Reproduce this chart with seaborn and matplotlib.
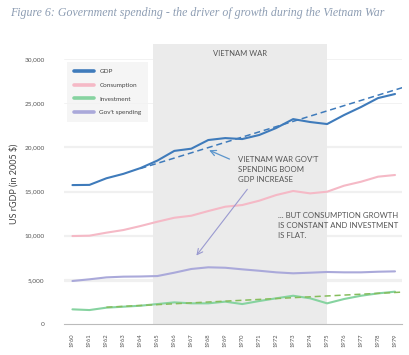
import pandas as pd
import matplotlib
matplotlib.use('Agg')
import matplotlib.pyplot as plt
import seaborn as sns

years = list(range(1960, 1980))
gdp = [15730, 15750, 16500, 17000, 17650, 18500, 19600, 19850, 20830, 21050,
       20940, 21400, 22190, 23200, 22870, 22640, 23660, 24570, 25580, 26040]
consumption = [9960, 10000, 10340, 10640, 11090, 11580, 12030, 12260, 12790, 13280,
               13470, 13960, 14600, 15060, 14790, 14980, 15660, 16110, 16680, 16870]
investment = [1660, 1580, 1850, 1960, 2070, 2260, 2450, 2340, 2340, 2530,
              2260, 2600, 2910, 3200, 2910, 2340, 2830, 3200, 3470, 3660]
govt = [4870, 5060, 5280, 5360, 5380, 5430, 5810, 6230, 6420, 6370,
        6190, 6030, 5850, 5740, 5810, 5890, 5850, 5850, 5920, 5960]

gdp_trend_x = [1964.0, 1979.5]
gdp_trend_y = [17600, 26800]
inv_trend_x = [1962.0, 1979.3]
inv_trend_y = [1900, 3600]

war_start, war_end = 1964.75, 1975.0

series = ['GDP', 'Consumption', 'Investment', "Gov't spending"]
colors = ['#3f7bbb', '#f5b9c6', '#86d3a0', '#aaa9da']

def main():
    df = pd.DataFrame({'Year': years * 4,
                       'Value': gdp + consumption + investment + govt,
                       'Series': sum([[s] * len(years) for s in series], [])})

    sns.set_style('white')
    plt.rcParams['font.family'] = ['Lato', 'DejaVu Sans']

    fig = plt.figure(figsize=(4.1, 3.55), dpi=100)
    ax = fig.add_axes([0.156, 0.0873, 0.824, 0.7887])

    # war band + gridlines
    ax.axvspan(war_start, war_end, color='#ebebeb', zorder=0, lw=0)
    for v in range(5000, 35000, 5000):
        ax.axhline(v, color='#f0f0f0', lw=0.6, zorder=-1)
    ax.text((war_start + war_end) / 2, 30650, 'VIETNAM WAR', ha='center', va='center',
            fontsize=5.5, color='#555555')

    sns.lineplot(data=df, x='Year', y='Value', hue='Series', hue_order=series,
                 palette=colors, ax=ax, zorder=3, legend=True)
    for line, lw in zip(ax.lines, [2.3, 1.6, 1.6, 1.6]):
        line.set_linewidth(lw)
        line.set_solid_capstyle('round')
        line.set_solid_joinstyle('round')

    ax.plot(gdp_trend_x, gdp_trend_y, ls=(0, (4, 2.5)), color='#3f7bbb', lw=1.1, zorder=4)
    ax.plot(inv_trend_x, inv_trend_y, ls=(0, (4, 2.5)), color='#86bd5c', lw=1.1, zorder=4)

    leg = ax.legend(loc='upper left', bbox_to_anchor=(0.01, 0.935), fontsize=4.6,
                    frameon=True, facecolor='#f3f3f3', edgecolor='none', fancybox=False,
                    handlelength=3.2, borderpad=1.0, labelspacing=1.3,
                    borderaxespad=0.0)
    for h in leg.get_lines():
        h.set_linewidth(2.6)
    for t in leg.get_texts():
        t.set_color('#444444')

    # annotations
    ax.annotate('', xy=(1967.9, 19800), xytext=(1969.4, 18550),
                arrowprops=dict(arrowstyle='->', color='#5b95cc', lw=0.9), zorder=5)
    ax.annotate('', xy=(1967.2, 7500), xytext=(1970.4, 15500),
                arrowprops=dict(arrowstyle='->', color='#9a9ad0', lw=0.8), zorder=5)
    ax.text(1969.75, 19000, "VIETNAM WAR GOV'T\nSPENDING BOOM\nGDP INCREASE",
            ha='left', va='top', fontsize=5.6, color='#555555', linespacing=1.45)
    ax.text(1972.1, 12650, '... BUT CONSUMPTION GROWTH\nIS CONSTANT AND INVESTMENT\nIS FLAT.',
            ha='left', va='top', fontsize=5.6, color='#555555', linespacing=1.45)

    ax.set_xlim(1959.5, 1979.4)
    ax.set_ylim(0, 31700)
    ax.set_xticks(years)
    ax.set_xticklabels([str(y) for y in years], rotation=90, fontsize=4.2, color='#555555')
    ax.set_yticks(range(0, 35000, 5000))
    ax.set_yticklabels([f'{v:,}' for v in range(0, 35000, 5000)], fontsize=4.6, color='#555555')
    ax.tick_params(axis='x', length=0, pad=7)
    ax.tick_params(axis='y', length=0, pad=14)
    ax.set_xlabel('')
    ax.set_ylabel('US rGDP (in 2005 $)', fontsize=6.5, color='#444444', labelpad=4)
    for side in ['top', 'right', 'left']:
        ax.spines[side].set_visible(False)
    ax.spines['bottom'].set_color('#bbbbbb')
    ax.spines['bottom'].set_linewidth(0.8)

    fig.text(0.025, 0.962, 'Figure 6: Government spending - the driver of growth during the Vietnam War',
             fontsize=8.6, style='italic', family='Liberation Serif', color='#8d9db3',
             ha='left', va='center')

    fig.savefig('out.png', dpi=100)

if __name__ == '__main__':
    main()
